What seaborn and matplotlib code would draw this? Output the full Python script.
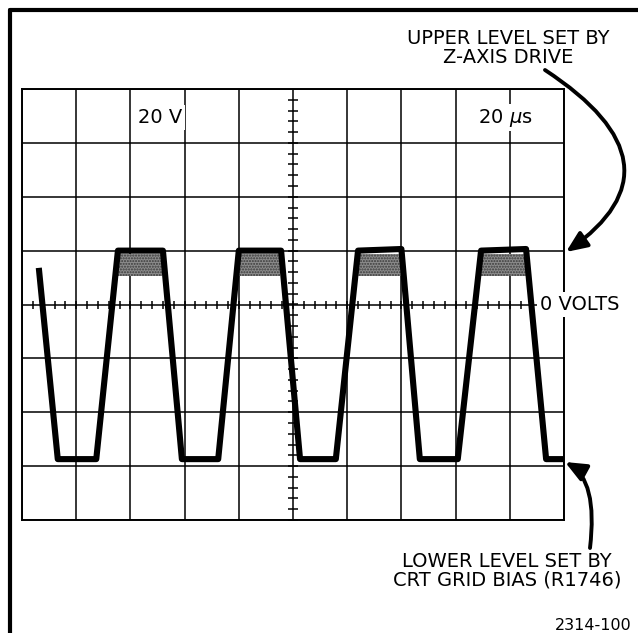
import numpy as np
import matplotlib
matplotlib.use("Agg")
import matplotlib.pyplot as plt
import seaborn as sns
from matplotlib.lines import Line2D
from matplotlib.patches import FancyArrowPatch
from matplotlib.path import Path

# trace (divisions: x 0..10, y -4..4)
trace_t = [0.31, 0.66, 1.37, 1.77, 2.60, 2.95, 3.62, 4.00, 4.78, 5.13,
           5.79, 6.20, 7.00, 7.34, 8.04, 8.47, 9.30, 9.67, 10.0]
trace_v = [0.68, -2.87, -2.87, 1.0, 1.0, -2.87, -2.87, 1.0, 1.0, -2.87,
           -2.87, 1.0, 1.03, -2.87, -2.87, 1.0, 1.03, -2.87, -2.87]

# shaded (z-axis) band under each upper level
shade_left = [1.74, 3.98, 6.18, 8.45]
shade_right = [2.58, 4.76, 7.00, 9.30]
shade_low, shade_high = 0.52, 0.93

W, H = 638, 633


def px(x, y):
    # pixel position -> figure fraction
    return (x / W, 1 - y / H)


sns.set_style("white")
plt.rcParams['font.family'] = ['DejaVu Sans']
plt.rcParams['text.color'] = 'black'

fig = plt.figure(figsize=(W / 100, H / 100), dpi=100)
ax = fig.add_axes([22 / W, 1 - 520 / H, 542 / W, 431 / H])
ax.set_xlim(0, 10)
ax.set_ylim(-4, 4)
ax.set_xticks(np.arange(0, 11))
ax.set_yticks(np.arange(-4, 5))
ax.grid(True, color="black", lw=1.1)
ax.tick_params(length=0, labelbottom=False, labelleft=False)
for s in ax.spines.values():
    s.set_color("black")
    s.set_linewidth(1.4)

# graticule minor ticks on center lines
minor_x = np.arange(0, 10.01, 0.2)
minor_y = np.arange(-4, 4.01, 0.2)
ax.plot(minor_x, np.zeros_like(minor_x), "|", ms=6, mew=1.1, color="black", zorder=2)
ax.plot(np.full_like(minor_y, 5), minor_y, "_", ms=7, mew=1.1, color="black", zorder=2)

# shaded bands
for l, r in zip(shade_left, shade_right):
    ax.fill_between([l, r], shade_low, shade_high, facecolor="#8c8c8c",
                    edgecolor="#3a3a3a", hatch="......", lw=0, zorder=2)

sns.lineplot(x=trace_t, y=trace_v, ax=ax, color="black", lw=4.4,
             sort=False, estimator=None, zorder=3)
for ln in ax.lines[2:]:
    ln.set_solid_joinstyle("round")
    ln.set_solid_capstyle("butt")

box = dict(facecolor="white", edgecolor="none", pad=2)
ax.text(2.55, 3.47, "20 V", ha="center", va="center", fontsize=14, bbox=box, zorder=4)
ax.text(8.91, 3.47, "20 $\\mu$s", ha="center", va="center", fontsize=14, bbox=box, zorder=4)
ax.text(9.56, 0, "0 VOLTS", ha="left", va="center", fontsize=14, bbox=box,
        clip_on=False, zorder=4)

fig.text(*px(508, 48), "UPPER LEVEL SET BY\nZ-AXIS DRIVE", ha="center", va="center",
         fontsize=14, linespacing=1.0)
fig.text(*px(507, 571), "LOWER LEVEL SET BY\nCRT GRID BIAS (R1746)", ha="center",
         va="center", fontsize=14, linespacing=1.0)
fig.text(*px(632, 625), "2314-100", ha="right", va="center", fontsize=11.5)

# frame
fig.add_artist(Line2D([10 / W, 1], [1 - 10 / H, 1 - 10 / H], color="black", lw=3))
fig.add_artist(Line2D([10 / W, 10 / W], [1 - 10 / H, 0], color="black", lw=3))

# curved arrows
for pts in ([(545, 70), (690, 165), (566, 252)],
            [(590, 548), (598, 480), (565, 462)]):
    path = Path([px(*p) for p in pts], [Path.MOVETO, Path.CURVE3, Path.CURVE3])
    arr = FancyArrowPatch(path=path, arrowstyle="-|>,head_length=0.7,head_width=0.3",
                          mutation_scale=18, lw=2.8, color="black",
                          transform=fig.transFigure)
    fig.add_artist(arr)

fig.savefig("out.png", dpi=100)
